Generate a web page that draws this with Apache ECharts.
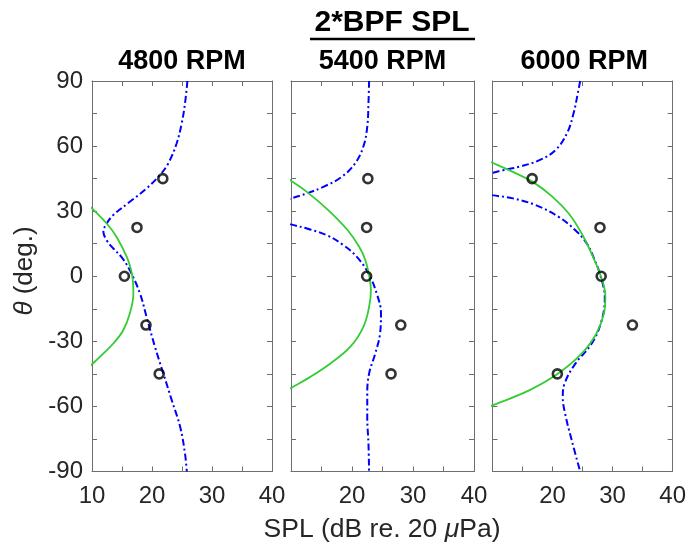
<!DOCTYPE html>
<html><head><meta charset="utf-8">
<script src="https://cdn.jsdelivr.net/npm/echarts@6/dist/echarts.min.js"></script>
<style>html,body{margin:0;padding:0;background:#fff}#c{width:689px;height:545px}</style>
</head><body><div id="c"></div>
<script>
// ---- data ----
const mainTitle = '2*BPF SPL';
const panelTitles = ['4800 RPM', '5400 RPM', '6000 RPM'];
const measAngles = [45, 22.5, 0, -22.5, -45];
const meas4800 = [21.8, 17.5, 15.4, 19.0, 21.2];
const meas5400 = [22.6, 22.4, 22.4, 28.0, 26.4];
const meas6000 = [16.6, 27.9, 28.1, 33.3, 20.8];

// blue dash-dot model curves (theta in deg, SPL in dB)
const blue4800Theta = [90, 79.7, 70.5, 61.2, 52, 46.6, 40.5, 34.3, 28.2, 24.3, 20.5, 16.6, 12.8, 8.9, 2.8, -8, -18.8, -32.6, -44.9, -57.2, -69.5, -81.8, -90];
const blue4800Spl   = [25.9, 25.5, 24.95, 24.1, 22.7, 21.3, 19.1, 16.3, 13.55, 12.45, 11.9, 12.45, 13.55, 14.9, 16.3, 18.0, 19.1, 20.5, 21.9, 23.3, 24.7, 25.5, 25.8];
const blue5400aTheta = [90, 79.7, 68.9, 59.7, 52, 45.8, 41.2, 38.2, 35.9, 34];
const blue5400aSpl   = [22.8, 22.7, 22.5, 21.85, 20.5, 18.3, 15.3, 12.6, 10, 7.5];
const blue5400bTheta = [26, 23.9, 22, 18.9, 14.3, 8.9, 1.3, -8, -17.2, -26.4, -35.7, -44.9, -54.1, -64.9, -77.2, -90];
const blue5400bSpl   = [7.5, 10, 12.6, 15.9, 18.6, 20.8, 22.7, 24.05, 24.75, 24.6, 23.8, 22.8, 22.5, 22.5, 22.7, 22.8];
const blue6000aTheta = [90, 84.3, 75.1, 65.9, 58.2, 53.5, 50.5, 48.9, 47.7, 46.5];
const blue6000aSpl   = [24.6, 24.2, 23.5, 22.4, 20.5, 17.8, 14.5, 11.8, 10, 8];
const blue6000bTheta = [39, 37.4, 35.9, 32.8, 27.4, 21.2, 15.1, 8.2, 0, -10, -21.1, -31.1, -40.3, -49.5, -55.7, -63.4, -75.7, -90];
const blue6000bSpl   = [7.5, 10, 13.4, 17.2, 21.0, 23.8, 25.7, 26.9, 28.0, 28.7, 28.1, 26.5, 23.8, 22.0, 21.7, 22.1, 23.2, 24.6];

// green solid model curves
const green4800Theta = [36, 31.25, 24.3, 18.1, 8.9, 3, -1.8, -8, -17.2, -24.9, -31, -37.2, -40.6, -45];
const green4800Spl   = [8.3, 10, 12.45, 14.1, 15.8, 16.5, 16.8, 16.9, 16.3, 15.2, 13.55, 11.3, 10, 8.3];
const green5400Theta = [47, 44, 38.9, 30.5, 21.2, 13.5, 7.4, -0.3, -6.5, -14.2, -23.4, -32.6, -40.3, -46.5, -51.5, -54];
const green5400Spl   = [8.2, 10, 12.6, 16.1, 19.3, 21.2, 22.2, 22.85, 23.1, 22.8, 21.85, 19.7, 16.4, 13.1, 10, 8.5];
const green6000Theta = [55, 52.3, 48.1, 43.5, 36.6, 28.9, 19.7, 8.9, -0.3, -9.5, -17.2, -26.4, -35.7, -45.1, -52.6, -59.5, -62];
const green6000Spl   = [7.7, 10, 13.4, 16.7, 20, 22.7, 24.85, 26.75, 28.1, 28.8, 28.55, 27.3, 24.85, 20.8, 16.1, 10, 7.7];

const yTickLabels = [90, 60, 30, 0, -30, -60, -90];
const xTickLabelsFirst = [10, 20, 30, 40];
const xTickLabelsOther = [20, 30, 40];

// ---- build ----
const FONT = '"Liberation Sans", Arial, Helvetica, sans-serif';
const AXIS_COLOR = '#6e6e6e';
const TEXT_COLOR = '#262626';
const pair = (sp, th) => sp.map((v, i) => [v, th[i]]);

const panels = [
  { meas: meas4800, blue: [pair(blue4800Spl, blue4800Theta)], green: pair(green4800Spl, green4800Theta), xt: xTickLabelsFirst, yLabels: true },
  { meas: meas5400, blue: [pair(blue5400aSpl, blue5400aTheta), pair(blue5400bSpl, blue5400bTheta)], green: pair(green5400Spl, green5400Theta), xt: xTickLabelsOther, yLabels: false },
  { meas: meas6000, blue: [pair(blue6000aSpl, blue6000aTheta), pair(blue6000bSpl, blue6000bTheta)], green: pair(green6000Spl, green6000Theta), xt: xTickLabelsOther, yLabels: false }
];
const gridPos = [
  { left: 92, top: 81, width: 180, height: 390.5 },
  { left: 291, top: 81, width: 183, height: 390.5 },
  { left: 492.5, top: 81, width: 183.5, height: 390.5 }
];

const grid = [], xAxis = [], yAxis = [], series = [];
const tick = { show: true, inside: true, length: 5, lineStyle: { color: AXIS_COLOR, width: 1 } };
const line = { show: true, onZero: false, lineStyle: { color: AXIS_COLOR, width: 1 } };

panels.forEach((p, i) => {
  grid.push(Object.assign({ containLabel: false, show: false }, gridPos[i]));
  xAxis.push({ type: 'value', gridIndex: i, position: 'bottom', min: 10, max: 40, interval: 5,
    axisLine: line, axisTick: tick, splitLine: { show: false },
    axisLabel: { show: true, interval: 0, margin: 13, color: TEXT_COLOR, fontSize: 24, fontFamily: FONT,
      showMinLabel: true, showMaxLabel: true,
      formatter: v => p.xt.indexOf(v) >= 0 ? String(v) : '' } });
  xAxis.push({ type: 'value', gridIndex: i, position: 'top', min: 10, max: 40, interval: 5,
    axisLine: line, axisTick: tick, splitLine: { show: false }, axisLabel: { show: false } });
  yAxis.push({ type: 'value', gridIndex: i, position: 'left', min: -90, max: 90, interval: 15,
    axisLine: line, axisTick: tick, splitLine: { show: false },
    axisLabel: { show: p.yLabels, interval: 0, margin: 9, color: TEXT_COLOR, fontSize: 24, fontFamily: FONT,
      formatter: v => yTickLabels.indexOf(v) >= 0 ? String(v) : '' } });
  yAxis.push({ type: 'value', gridIndex: i, position: 'right', min: -90, max: 90, interval: 15,
    axisLine: line, axisTick: tick, splitLine: { show: false }, axisLabel: { show: false } });

  p.blue.forEach(d => series.push({ type: 'line', xAxisIndex: 2 * i, yAxisIndex: 2 * i, data: d,
    showSymbol: false, symbol: 'none', smooth: 0.4, clip: true, z: 2,
    lineStyle: { color: '#0000ff', width: 2, type: [7, 3, 2, 3] } }));
  series.push({ type: 'line', xAxisIndex: 2 * i, yAxisIndex: 2 * i, data: p.green,
    showSymbol: false, symbol: 'none', smooth: 0.4, clip: true, z: 3,
    lineStyle: { color: '#33cc33', width: 1.8 } });
  series.push({ type: 'scatter', xAxisIndex: 2 * i, yAxisIndex: 2 * i, data: pair(p.meas, measAngles),
    symbol: 'circle', symbolSize: 9, z: 4,
    itemStyle: { color: 'rgba(0,0,0,0)', borderColor: '#000', borderWidth: 2.6 } });
});

const graphic = [
  { type: 'text', x: 392, y: 23, style: { text: mainTitle, font: 'bold 30px ' + FONT, fill: '#000', align: 'center', verticalAlign: 'middle' } },
  { type: 'line', shape: { x1: 310, y1: 39, x2: 475, y2: 39 }, style: { stroke: '#000', lineWidth: 2.5 } },
  { type: 'text', x: 25, y: 271, rotation: Math.PI / 2,
    style: { text: '{i|θ} (deg.)', fontSize: 26, fontFamily: FONT, fill: TEXT_COLOR, align: 'center', verticalAlign: 'middle',
      rich: { i: { fontStyle: 'italic', fontSize: 26, fontFamily: FONT, fill: TEXT_COLOR } } } },
  { type: 'text', x: 382, y: 530,
    style: { text: 'SPL (dB re. 20 {i|μ}Pa)', fontSize: 26.5, fontFamily: FONT, fill: TEXT_COLOR, align: 'center', verticalAlign: 'middle',
      rich: { i: { fontStyle: 'italic', fontSize: 26.5, fontFamily: FONT, fill: TEXT_COLOR } } } }
];
panelTitles.forEach((t, i) => {
  graphic.push({ type: 'text', x: gridPos[i].left + gridPos[i].width / 2, y: 62,
    style: { text: t, font: 'bold 27px ' + FONT, fill: '#000', align: 'center', verticalAlign: 'middle' } });
});

const chart = echarts.init(document.getElementById('c'), null, { renderer: 'canvas' });
chart.setOption({ animation: false, backgroundColor: '#fff', grid, xAxis, yAxis, series, graphic });
</script>
</body></html>
